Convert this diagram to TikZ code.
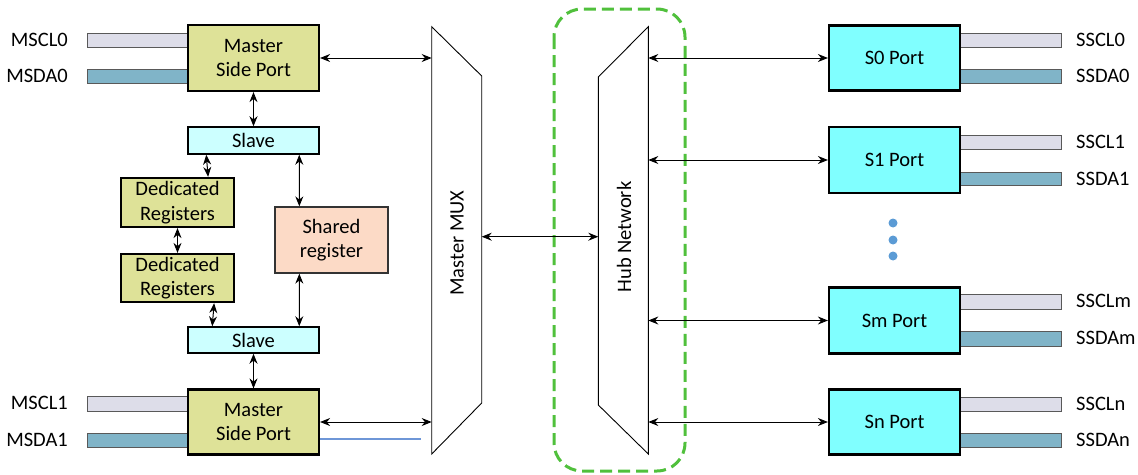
\documentclass[tikz,border=0pt]{standalone}
\usepackage{fontspec}
\setmainfont{Carlito}
\usetikzlibrary{arrows.meta,calc}
\definecolor{khaki}{RGB}{222,226,152}
\definecolor{portcyan}{RGB}{128,255,255}
\definecolor{slavecyan}{RGB}{204,255,255}
\definecolor{peach}{RGB}{252,218,198}
\definecolor{lav}{RGB}{221,221,233}
\definecolor{steel}{RGB}{128,180,200}
\definecolor{hubgreen}{RGB}{80,192,60}
\definecolor{dotblue}{RGB}{91,155,213}
\definecolor{lineblue}{RGB}{110,150,215}
\begin{document}
\begin{tikzpicture}[x=1pt,y=-1pt,font=\fontsize{20.5}{24.5}\selectfont,
  thickbox/.style={draw,line width=2.2pt,inner sep=0pt,align=center},
  mspbox/.style={thickbox,fill=khaki,minimum width=131,minimum height=66},
  dedbox/.style={thickbox,fill=khaki,minimum width=113,minimum height=49},
  portbox/.style={thickbox,fill=portcyan,minimum width=131,minimum height=66},
  slavebox/.style={draw,line width=1.5pt,fill=slavecyan,inner sep=0pt,minimum width=131,minimum height=27},
  sharedbox/.style={draw=black!80,line width=1.3pt,fill=peach,inner sep=0pt,align=center,minimum width=113,minimum height=66},
  arr/.style={{Stealth[length=10pt,width=8pt]}-{Stealth[length=10pt,width=8pt]},line width=1pt},
  sclbar/.style={draw=black!65,line width=1pt,fill=lav},
  sdabar/.style={draw=black!65,line width=1pt,fill=steel},
  lbl/.style={inner sep=0pt},
  trap/.style={draw,line width=0.9pt}
]
\useasboundingbox (0,0) rectangle (1138,474);

% left bars
\draw[sclbar] (87,33) rectangle (190,47);
\draw[sdabar] (87,69) rectangle (190,83);
\draw[sclbar] (87,396) rectangle (190,411);
\draw[sdabar] (87,433) rectangle (190,447);
% right bars
\draw[sclbar] (958,33) rectangle (1061,47);
\draw[sdabar] (958,69) rectangle (1061,83);
\draw[sclbar] (958,135) rectangle (1061,149);
\draw[sdabar] (958,172) rectangle (1061,185);
\draw[sclbar] (958,294) rectangle (1061,309);
\draw[sdabar] (958,331) rectangle (1061,346);
\draw[sclbar] (958,397) rectangle (1061,411);
\draw[sdabar] (958,433) rectangle (1061,447);

% labels
\node[lbl,anchor=east] (lmscl0) at (68,40) {MSCL0};
\node[lbl,anchor=east] (lmsda0) at (68,76) {MSDA0};
\node[lbl,anchor=east] (lmscl1) at (68,403) {MSCL1};
\node[lbl,anchor=east] (lmsda1) at (68,440) {MSDA1};
\node[lbl,anchor=west] (lsscl0) at (1076,40) {SSCL0};
\node[lbl,anchor=west] (lssda0) at (1076,76) {SSDA0};
\node[lbl,anchor=west] (lsscl1) at (1076,142) {SSCL1};
\node[lbl,anchor=west] (lssda1) at (1076,179) {SSDA1};
\node[lbl,anchor=west] (lssclm) at (1076,301) {SSCLm};
\node[lbl,anchor=west] (lssdam) at (1076,338) {SSDAm};
\node[lbl,anchor=west] (lsscln) at (1076,404) {SSCLn};
\node[lbl,anchor=west] (lssdan) at (1076,440) {SSDAn};

% left column boxes
\node[mspbox] (msp0) at (253.5,58) {Master\\Side Port};
\node[slavebox] (slave0) at (253.5,140.5) {Slave};
\node[dedbox] (ded1) at (177.5,202.5) {Dedicated\\Registers};
\node[sharedbox] (shared) at (331.5,240) {Shared\\register};
\node[dedbox,minimum height=48] (ded2) at (177.5,278) {Dedicated\\Registers};
\node[slavebox,minimum height=26] (slave1) at (253.5,340) {Slave};
\node[mspbox,minimum height=65] (msp1) at (253.5,422) {Master\\Side Port};

% ports
\node[portbox,minimum height=65] (s0) at (894.5,58) {S0 Port};
\node[portbox] (s1) at (894.5,160) {S1 Port};
\node[portbox] (sm) at (894.5,320.5) {Sm Port};
\node[portbox,minimum height=65] (sn) at (894.5,422) {Sn Port};

% dots
\fill[dotblue] (893,223) circle (4.5);
\fill[dotblue] (893,240) circle (4.5);
\fill[dotblue] (893,256) circle (4.5);

% Master MUX
\draw[trap] (431.7,26.7) -- (481.7,76) -- (481.7,403) -- (431.7,454) -- cycle;
\coordinate (muxL) at (431.7,240);
\coordinate (muxR) at (481.7,236.7);
\node[rotate=90] (muxlabel) at (457,243) {Master MUX};

% Hub network
\draw[trap] (648.3,26.7) -- (648.3,454) -- (598.3,405) -- (598.3,77) -- cycle;
\coordinate (hubL) at (598.3,236.7);
\coordinate (hubR) at (648.3,240);
\node[rotate=90] (hublabel) at (624,237) {Hub Network};

% green dashed region
\draw[hubgreen,line width=3pt,dash pattern=on 12pt off 6pt,rounded corners=28pt] (554,9) rectangle (685,471);

% connectors, left
\draw[arr] (msp0.south) -- (slave0.north);
\draw[arr] ($(slave0.south west)+(19,0)$) -- ($(ded1.north east)+(-27,0)$);
\draw[arr] ($(slave0.south west)+(112,0)$) -- ($(shared.north west)+(25,0)$);
\draw[arr] (ded1.south) -- (ded2.north);
\draw[arr] ($(ded2.south east)+(-21,0)$) -- ($(slave1.north west)+(25,0)$);
\draw[arr] ($(shared.south west)+(25,0)$) -- ($(slave1.north west)+(112,0)$);
\draw[arr] (slave1.south) -- (msp1.north);

% to MUX
\draw[arr] (msp0.east) -- (msp0.east -| muxL);
\draw[arr] (msp1.east) -- (msp1.east -| muxL);
\draw[lineblue,line width=1.1pt] ([yshift=-17pt]msp1.east) -- ++(101,0);
\draw[arr] (muxR) -- (hubL);

% hub to ports
\draw[arr] (s0.west -| hubR) -- (s0.west);
\draw[arr] (s1.west -| hubR) -- (s1.west);
\draw[arr] (sm.west -| hubR) -- (sm.west);
\draw[arr] (sn.west -| hubR) -- (sn.west);
\end{tikzpicture}
\end{document}
